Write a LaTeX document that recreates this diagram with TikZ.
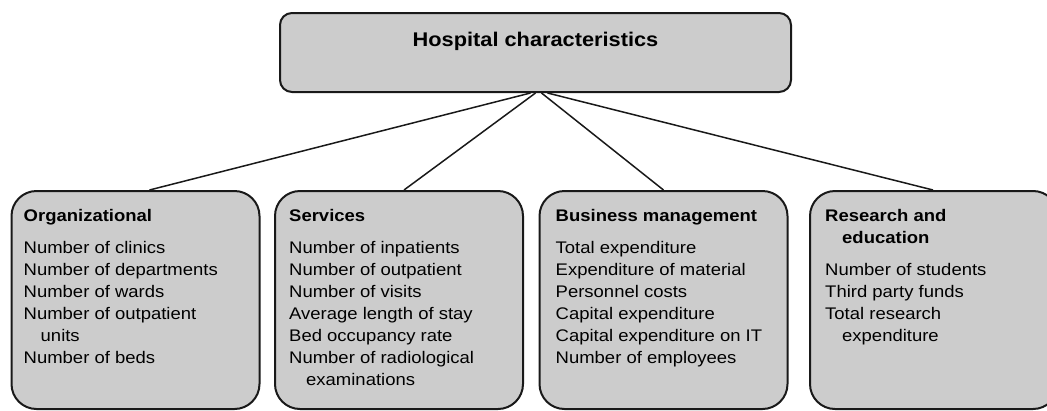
\documentclass[tikz,border=0pt]{standalone}
\usepackage{fontspec}
\setmainfont{Liberation Sans}[FakeStretch=1.1]
\usetikzlibrary{positioning}
\definecolor{boxgray}{RGB}{204,204,204}
\definecolor{edgegray}{RGB}{25,25,25}
\tikzset{
  topbox/.style={draw=edgegray, line width=2pt, rounded corners=12pt, fill=boxgray,
    minimum width=511pt, minimum height=79pt, inner sep=0pt,
    font=\fontsize{19.8}{24}\selectfont\bfseries, text height=14pt, text depth=27pt},
  catbox/.style={draw=edgegray, line width=2pt, rounded corners=25pt, fill=boxgray,
    minimum width=248pt, minimum height=218pt},
  cattext/.style={anchor=north west, inner sep=0pt, align=left,
    font=\fontsize{16.8}{22}\selectfont},
  link/.style={draw=edgegray, line width=1.5pt}
}
% hanging indent for wrapped list entries
\newcommand{\cont}[1]{\hspace*{17pt}#1}

\begin{document}
\begin{tikzpicture}[x=1pt, y=-1pt]
\useasboundingbox (0,0) rectangle (1047,410);

\node[topbox] (hosp) at (535.5,52.5) {Hospital characteristics};

\node[catbox] (org) at (135.5,300) {};
\node[catbox] (serv) at (399,300) {};
\node[catbox] (busi) at (663.5,300) {};
\node[catbox] (rese) at (934,300) {};

\node[cattext] (orgtxt) at ([shift={(13,19)}]org.north west)
  {\textbf{Organizational}\\[10pt]
   Number of clinics\\ Number of departments\\ Number of wards\\
   Number of outpatient\\ \cont{units}\\ Number of beds};
\node[cattext] (servtxt) at ([shift={(15,19)}]serv.north west)
  {\textbf{Services}\\[10pt]
   Number of inpatients\\ Number of outpatient\\ Number of visits\\
   Average length of stay\\ Bed occupancy rate\\
   Number of radiological\\ \cont{examinations}};
\node[cattext] (busitxt) at ([shift={(17,19)}]busi.north west)
  {\textbf{Business management}\\[10pt]
   Total expenditure\\ Expenditure of material\\ Personnel costs\\
   Capital expenditure\\ Capital expenditure on IT\\ Number of employees};
\node[cattext] (resetxt) at ([shift={(16,19)}]rese.north west)
  {\textbf{Research and}\\ \textbf{\cont{education}}\\[10pt]
   Number of students\\ Third party funds\\
   Total research\\ \cont{expenditure}};

\draw[link] ([xshift=-5pt]hosp.south) -- ([xshift=14pt]org.north);
\draw[link] (hosp.south) -- ([xshift=5pt]serv.north);
\draw[link] ([xshift=6pt]hosp.south) -- (busi.north);
\draw[link] ([xshift=12pt]hosp.south) -- ([xshift=-1pt]rese.north);
\end{tikzpicture}
\end{document}
